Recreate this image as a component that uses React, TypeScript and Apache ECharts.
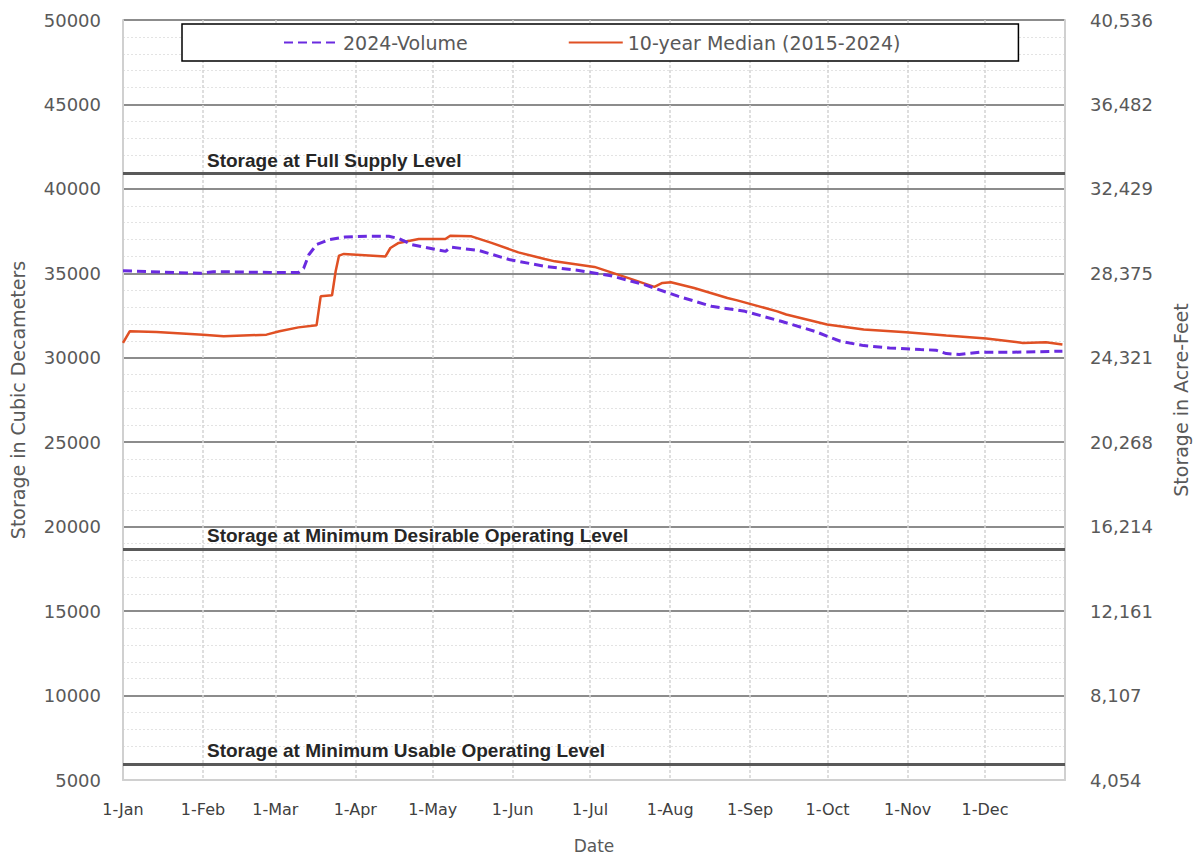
import React, { useEffect, useRef } from "react";
import * as echarts from "echarts";

// Day-of-year ticks (1-Jan = day 0)
const monthStarts = [0, 31, 59, 90, 120, 151, 181, 212, 243, 273, 304, 334];
const monthLabels = ["1-Jan", "1-Feb", "1-Mar", "1-Apr", "1-May", "1-Jun", "1-Jul", "1-Aug", "1-Sep", "1-Oct", "1-Nov", "1-Dec"];

const leftTicks = [5000, 10000, 15000, 20000, 25000, 30000, 35000, 40000, 45000, 50000];
const rightTickLabels = ["4,054", "8,107", "12,161", "16,214", "20,268", "24,321", "28,375", "32,429", "36,482", "40,536"];

// 2024-Volume: [day, cubic dam]
const volume2024Days = [0, 10, 30, 35, 45, 57, 68, 70, 72, 75, 80, 86, 95, 103, 107, 112, 125, 127, 138, 150, 164, 176, 189, 202, 215, 228, 241, 255, 268, 273, 278, 287, 297, 309, 315, 319, 324, 332, 345, 364];
const volume2024Values = [35160, 35100, 35000, 35100, 35080, 35050, 35050, 35300, 36100, 36700, 37000, 37150, 37200, 37200, 37050, 36700, 36300, 36550, 36350, 35800, 35400, 35180, 34860, 34330, 33650, 33050, 32750, 32160, 31570, 31270, 30980, 30720, 30580, 30490, 30450, 30250, 30190, 30330, 30330, 30390];

// 10-year Median (2015-2024)
const medianDays = [0, 2.6, 13, 31, 39, 55.6, 60.6, 68, 75, 76.6, 81, 82.4, 83.7, 85.6, 101.7, 103.6, 106.8, 114.6, 124.9, 126.8, 135, 142.8, 153.2, 163.4, 167.3, 182.7, 195.6, 205.9, 209, 212.3, 221.3, 234.2, 238, 253.5, 257, 272.8, 287, 303.5, 319, 334.5, 348.7, 357.6, 364];
const medianValues = [30880, 31570, 31530, 31370, 31270, 31370, 31570, 31800, 31920, 33640, 33700, 35120, 36050, 36150, 36000, 36500, 36800, 37030, 37030, 37230, 37190, 36800, 36240, 35850, 35710, 35380, 34730, 34200, 34430, 34470, 34130, 33540, 33400, 32750, 32560, 31970, 31670, 31510, 31320, 31140, 30880, 30920, 30780];

// Reference levels (cubic dam)
const levelNames = ["Storage at Full Supply Level", "Storage at Minimum Desirable Operating Level", "Storage at Minimum Usable Operating Level"];
const levelValues = [40900, 18650, 5950];

const App: React.FC = () => {
  const ref = useRef<HTMLDivElement>(null);

  useEffect(() => {
    if (!ref.current) return;
    const chart = echarts.init(ref.current, null, { renderer: "svg" });
    const gray = "#595959";
    const font = "DejaVu Sans";

    chart.setOption({
      animation: false,
      backgroundColor: "#ffffff",
      grid: { left: 123, right: 129, top: 20, bottom: 78, containLabel: false },
      legend: {
        left: 182,
        top: 24,
        padding: [9, 118, 9, 101],
        itemGap: 100,
        itemWidth: 54,
        itemHeight: 14,
        borderColor: "#000000",
        borderWidth: 1.5,
        backgroundColor: "#ffffff",
        itemStyle: { opacity: 0 },
        textStyle: { fontFamily: font, fontSize: 19, color: gray },
        data: ["2024-Volume", "10-year Median (2015-2024)"],
      },
      xAxis: {
        type: "value",
        min: 0,
        max: 365,
        name: "Date",
        nameLocation: "middle",
        nameGap: 57,
        nameTextStyle: { fontFamily: font, fontSize: 17, color: gray },
        axisLine: { show: true, lineStyle: { color: "#d0d0d0", width: 2 } },
        axisTick: { show: false, customValues: monthStarts },
        axisLabel: {
          customValues: monthStarts,
          fontFamily: font,
          fontSize: 16,
          color: "#404040",
          margin: 21,
          formatter: (v: number) => monthLabels[monthStarts.indexOf(Math.round(v))] ?? "",
        },
        splitLine: { show: true, lineStyle: { color: "#d4d4d4", width: 1.5, type: [3, 2] } },
      },
      yAxis: [
        {
          type: "value",
          min: 5000,
          max: 50000,
          interval: 5000,
          name: "Storage in Cubic Decameters",
          nameLocation: "middle",
          nameGap: 96,
          nameTextStyle: { fontFamily: font, fontSize: 19, color: gray },
          axisLine: { show: true, lineStyle: { color: "#d0d0d0", width: 2 } },
          axisTick: { show: false },
          axisLabel: {
            fontFamily: font,
            fontSize: 18,
            color: gray,
            margin: 22,
            formatter: (v: number) => (leftTicks.includes(v) ? String(v) : ""),
          },
          splitLine: { show: true, lineStyle: { color: "#8c8c8c", width: 2 } },
          minorTick: { show: false, splitNumber: 5 },
          minorSplitLine: { show: true, lineStyle: { color: "#e3e3e3", width: 1.2, type: [2, 2] } },
        },
        {
          type: "value",
          min: 5000,
          max: 50000,
          interval: 5000,
          position: "right",
          name: "Storage in Acre-Feet",
          nameLocation: "middle",
          nameGap: 106,
          nameTextStyle: { fontFamily: font, fontSize: 19, color: gray },
          axisLine: { show: true, lineStyle: { color: "#d0d0d0", width: 2 } },
          axisTick: { show: false },
          axisLabel: {
            fontFamily: font,
            fontSize: 18,
            color: gray,
            margin: 25,
            formatter: (v: number) => rightTickLabels[leftTicks.indexOf(v)] ?? "",
          },
          splitLine: { show: false },
        },
      ],
      series: [
        {
          name: "2024-Volume",
          type: "line",
          yAxisIndex: 0,
          symbol: "none",
          z: 4,
          data: volume2024Days.map((d, i) => [d, volume2024Values[i]]),
          lineStyle: { color: "#6a2be0", width: 3, type: [9, 5] },
          itemStyle: { color: "#6a2be0" },
          markLine: {
            silent: true,
            symbol: "none",
            z: 2,
            lineStyle: { color: "#595959", width: 3, type: "solid" },
            label: {
              show: true,
              position: "insideStartTop",
              distance: [84, 4],
              fontFamily: "Liberation Sans",
              fontWeight: "bold",
              fontSize: 19,
              color: "#262626",
              formatter: (p: any) => p.name,
            },
            data: levelValues.map((v, i) => ({ name: levelNames[i], yAxis: v })),
          },
        },
        {
          name: "10-year Median (2015-2024)",
          type: "line",
          yAxisIndex: 0,
          symbol: "none",
          z: 3,
          data: medianDays.map((d, i) => [d, medianValues[i]]),
          lineStyle: { color: "#e05024", width: 2.5 },
          itemStyle: { color: "#e05024" },
        },
      ],
    });

    return () => chart.dispose();
  }, []);

  return <div ref={ref} style={{ width: 1198, height: 859, position: "absolute", left: 0, top: 0 }} />;
};

export default App;
